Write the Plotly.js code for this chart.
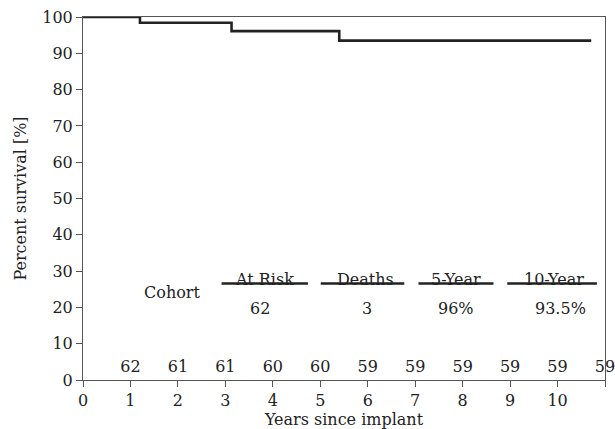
<!DOCTYPE html>
<html>
<head>
<meta charset="utf-8">
<script src="https://cdn.plot.ly/plotly-3.0.1.min.js"></script>
<style>html,body{margin:0;padding:0;background:#fff;}#chart{width:615px;height:429px;}</style>
</head>
<body>
<div id="chart"></div>
<script>
// Kaplan-Meier survival steps
const stepYears = [0, 1.2, 3.13, 5.4, 10.71];
const stepSurvival = [100, 98.4, 96.1, 93.5, 93.5];

// Number at risk along the bottom
const riskYears = [1, 2, 3, 4, 5, 6, 7, 8, 9, 10, 11];
const riskCounts = [62, 61, 61, 60, 60, 59, 59, 59, 59, 59, 59];

// Summary table
const tableHeaders = ["At Risk", "Deaths", "5-Year", "10-Year"];
const tableValues = ["62", "3", "96%", "93.5%"];
const rowLabel = "Cohort";

// Tick labels
const xTicks = [0, 1, 2, 3, 4, 5, 6, 7, 8, 9, 10, 11];
const yTicks = [0, 10, 20, 30, 40, 50, 60, 70, 80, 90, 100];

// layout positions of the table (data coords)
const headerX = [3.83, 5.95, 7.86, 9.92];
const valueX = [3.73, 5.98, 7.86, 10.06];
const underline = [[2.92, 4.74], [5.01, 6.77], [7.07, 8.65], [8.94, 10.83]];
const headerY = 27.7, lineY = 26.6, valueY = 19.8, cohortPos = [1.87, 24.1], riskY = 3.4;

const FONT = "DejaVu Serif";
const fs = 16;

const annotations = [];
tableHeaders.forEach((h, i) => annotations.push({x: headerX[i], y: headerY, text: h, showarrow: false, xref: 'x', yref: 'y', font: {family: FONT, size: fs, color: '#222'}}));
tableValues.forEach((v, i) => annotations.push({x: valueX[i], y: valueY, text: v, showarrow: false, xref: 'x', yref: 'y', font: {family: FONT, size: fs, color: '#222'}}));
annotations.push({x: cohortPos[0], y: cohortPos[1], text: rowLabel, showarrow: false, xref: 'x', yref: 'y', font: {family: FONT, size: fs, color: '#222'}});

const shapes = underline.map(u => ({type: 'line', xref: 'x', yref: 'y', x0: u[0], x1: u[1], y0: lineY, y1: lineY, line: {color: '#222', width: 2.5}}));

const traces = [
  {x: stepYears, y: stepSurvival, type: 'scatter', mode: 'lines', line: {shape: 'hv', color: '#222', width: 2.6}, cliponaxis: false, hoverinfo: 'skip'},
  {x: riskYears, y: riskYears.map(() => riskY), text: riskCounts.map(String), type: 'scatter', mode: 'text', textposition: 'middle center', textfont: {family: FONT, size: fs, color: '#222'}, cliponaxis: false, hoverinfo: 'skip'}
];

const layout = {
  width: 615, height: 429,
  margin: {l: 83, r: 10, t: 17, b: 49},
  paper_bgcolor: '#fff', plot_bgcolor: '#fff',
  showlegend: false,
  font: {family: FONT, size: fs, color: '#222'},
  xaxis: {range: [0, 11], tickvals: xTicks, ticktext: xTicks.map(String), showgrid: false, zeroline: false,
          showline: true, linecolor: '#555', linewidth: 1, mirror: true, ticks: 'outside', ticklen: 6, tickcolor: '#555',
          tickfont: {family: FONT, size: fs, color: '#222'},
          title: {text: 'Years since implant', font: {family: FONT, size: fs, color: '#222'}, standoff: 3}},
  yaxis: {range: [0, 100], tickvals: yTicks, ticktext: yTicks.map(String), showgrid: false, zeroline: false,
          showline: true, linecolor: '#555', linewidth: 1, mirror: true, ticks: 'outside', ticklen: 6, tickcolor: '#555',
          tickfont: {family: FONT, size: fs, color: '#222'},
          title: {text: 'Percent survival [%]', font: {family: FONT, size: fs, color: '#222'}, standoff: 11}},
  annotations: annotations,
  shapes: shapes
};

Plotly.newPlot('chart', traces, layout, {staticPlot: true, displayModeBar: false});
</script>
</body>
</html>
